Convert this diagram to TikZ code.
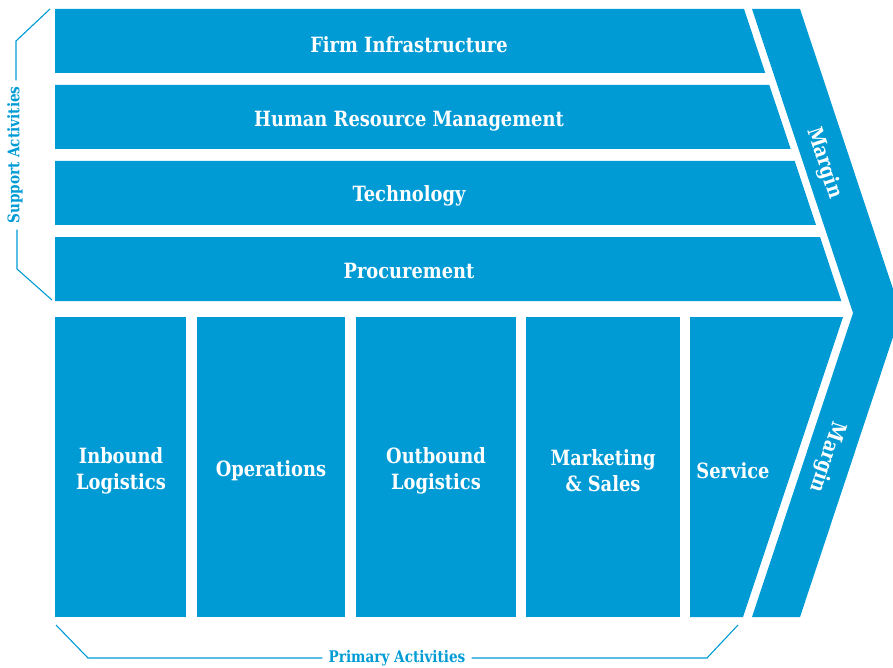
\documentclass[tikz,border=0pt]{standalone}
\usepackage{fontspec}
\setmainfont{DejaVu Serif}[FakeStretch=0.85]
\definecolor{chainblue}{RGB}{0,155,213}

\tikzset{
	label/.style={text=white, font=\bfseries\fontsize{21}{26}\selectfont, align=center},
	tag/.style={text=chainblue, font=\bfseries\fontsize{16}{18}\selectfont, inner sep=6pt},
	brace/.style={draw=chainblue, line width=1.1pt},
}

\begin{document}
\begin{tikzpicture}[x=1pt,y=-1pt]
		\useasboundingbox (0,0) rectangle (893,668);

		% support activities, right end cut along x = 741 + y/3
		\fill[chainblue] (55,9) -- (744,9) -- (765.3,73) -- (55,73) -- cycle;
		\fill[chainblue] (55,85) -- (769.3,85) -- (790.7,149) -- (55,149) -- cycle;
		\fill[chainblue] (55,161) -- (794.7,161) -- (816,225) -- (55,225) -- cycle;
		\fill[chainblue] (55,237) -- (820,237) -- (841.3,301) -- (55,301) -- cycle;

		\node[label] (infra) at (409,45) {Firm Infrastructure};
		\node[label] (hrm) at (409,121) {Human Resource Management};
		\node[label] (tech) at (409,196) {Technology};
		\node[label] (proc) at (409,271) {Procurement};

		% primary activities
		\fill[chainblue] (55,317) rectangle (186,617);
		\fill[chainblue] (197,317) rectangle (345,617);
		\fill[chainblue] (356,317) rectangle (516,617);
		\fill[chainblue] (526,317) rectangle (680,617);
		\fill[chainblue] (690,317) -- (843,317) -- (743,617) -- (690,617) -- cycle;

		\node[label] (inbound) at (121,471) {Inbound\\Logistics};
		\node[label] (ops) at (271,471) {Operations};
		\node[label] (outbound) at (436,471) {Outbound\\Logistics};
		\node[label] (mkt) at (603,471) {Marketing\\\& Sales};
		\node[label] (service) at (733,471) {Service};

		% margin chevron
		\fill[chainblue] (752,9) -- (800,9) -- (901,313) -- (800,617) -- (752,617) -- (853,313) -- cycle;
		\node[label, rotate=-71.6] (margintop) at (824,163) {Margin};
		\node[label, rotate=-108.4] (marginbot) at (827,457) {Margin};

		% brackets
		\node[tag, rotate=90] (support) at (15,155) {Support Activities};
		\coordinate (s1) at (50,9);
		\coordinate (s2) at (16,41);
		\coordinate (s3) at (17,269);
		\coordinate (s4) at (52,300);
		\draw[brace] (s1) -- (s2) -- (support.east -| s2);
		\draw[brace] (s4) -- (s3) -- (support.west -| s3);

		\node[tag] (primary) at (397,658) {Primary Activities};
		\coordinate (p1) at (56,625);
		\coordinate (p2) at (88,658);
		\coordinate (p3) at (707,658);
		\coordinate (p4) at (738,625);
		\draw[brace] (p1) -- (p2) -- (primary.west);
		\draw[brace] (p4) -- (p3) -- (primary.east);
	\end{tikzpicture}
\end{document}
